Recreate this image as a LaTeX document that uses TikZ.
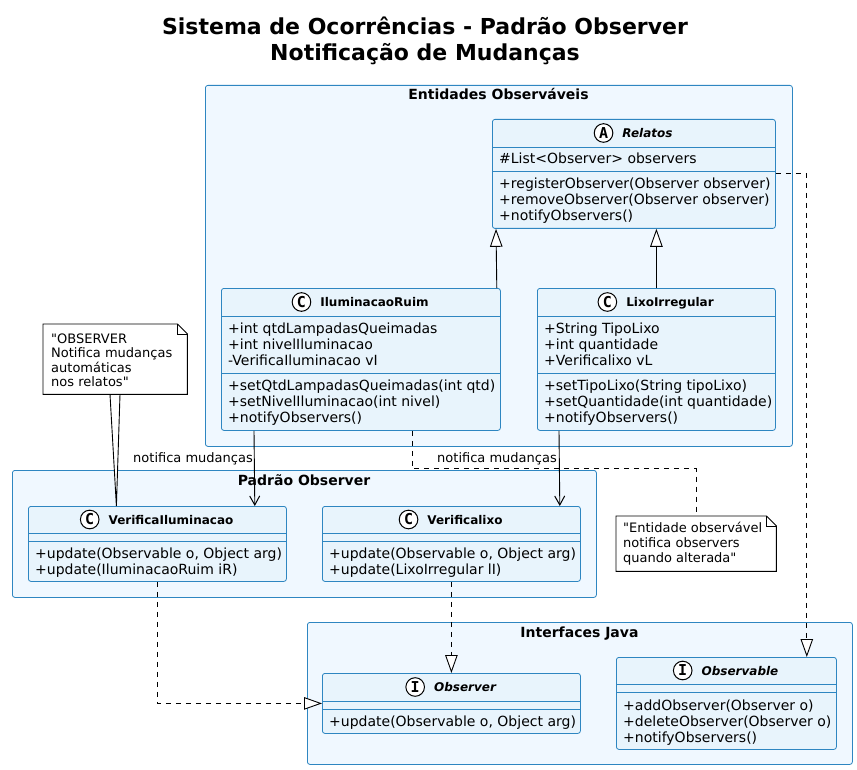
\documentclass[tikz,border=0pt]{standalone}
\usepackage{fontspec}
\setmainfont{DejaVu Sans}
\newfontfamily\iconfont{DejaVu Sans Mono}
\usetikzlibrary{arrows.meta}
\definecolor{bord}{HTML}{2E86C1}
\definecolor{pkgfill}{HTML}{F0F8FF}
\definecolor{clsfill}{HTML}{E8F4FC}
\tikzset{
 pkg/.style={draw=bord, fill=pkgfill, rounded corners=2.5pt, line width=0.8pt, inner sep=0pt, anchor=north west},
 cls/.style={draw=bord, fill=clsfill, rounded corners=2.5pt, line width=0.8pt, inner sep=0pt, anchor=north west},
 divl/.style={draw=bord, line width=0.8pt},
 mem/.style={inner sep=0pt, anchor=base west, font=\fontsize{14pt}{16pt}\selectfont},
 notetxt/.style={inner sep=0pt, anchor=base west, font=\fontsize{13pt}{15pt}\selectfont},
 lbl/.style={inner sep=0pt, anchor=base east, font=\fontsize{13pt}{15pt}\selectfont},
 pkgtitle/.style={inner sep=0pt, anchor=base, font=\bfseries\fontsize{14pt}{16pt}\selectfont},
 hdr/.style={inner sep=0pt, anchor=base, font=\bfseries\fontsize{12pt}{14pt}\selectfont},
 hdri/.style={inner sep=0pt, anchor=base, font=\bfseries\itshape\fontsize{12pt}{14pt}\selectfont},
 icon/.style={circle, draw=black, fill=white, line width=1pt, minimum size=18.6pt, inner sep=0pt, font=\iconfont\bfseries\fontsize{15pt}{15pt}\selectfont},
 ext/.style={line width=0.9pt, -{Triangle[length=18pt,width=12.5pt,fill=white]}},
 real/.style={ext, dash pattern=on 5pt off 5pt},
 dline/.style={line width=0.9pt, dash pattern=on 5pt off 5pt},
 assoc/.style={line width=0.9pt, -{Straight Barb[length=9pt,width=10pt,line width=1pt]}},
 notebox/.style={draw=black, fill=white, line width=0.9pt},
 noteanchor/.style={inner sep=0pt, anchor=north west},
 titlestyle/.style={inner sep=0pt, anchor=base, font=\bfseries\fontsize{22pt}{26pt}\selectfont},
}
\newcommand\umlhead[6]{%
 \node[#5] (#1) at (#2,#3) {\hspace*{28pt}#6};
 \node[icon] (#1i) at ([xshift=9.3pt,yshift=4.5pt]#1.base west) {#4};
}
\begin{document}
\begin{tikzpicture}[x=1pt,y=-1pt]
\useasboundingbox[fill=white] (0,0) rectangle (857,770);
% title
\node[titlestyle] (title1) at (425,35) {Sistema de Ocorrências - Padrão Observer};
\node[titlestyle] (title2) at (425,61) {Notificação de Mudanças};
% packages
\node[pkg, minimum width=587pt, minimum height=361pt] (pkgE) at (205,85) {};
\node[pkgtitle] (pkgEt) at (498.5,100) {Entidades Observáveis};
\node[pkg, minimum width=584pt, minimum height=127pt] (pkgP) at (12,470) {};
\node[pkgtitle] (pkgPt) at (304,485) {Padrão Observer};
\node[pkg, minimum width=545pt, minimum height=142pt] (pkgI) at (307,622) {};
\node[pkgtitle] (pkgIt) at (579.5,637) {Interfaces Java};
% classes
\node[cls, minimum width=283pt, minimum height=109pt] (relatos) at (492,119) {};
\draw[divl] (492,147) -- (775,147);
\draw[divl] (492,171) -- (775,171);
\node[cls, minimum width=279pt, minimum height=142pt] (ilum) at (221,288) {};
\draw[divl] (221,316) -- (500,316);
\draw[divl] (221,373) -- (500,373);
\node[cls, minimum width=238pt, minimum height=142pt] (lixo) at (537,288) {};
\draw[divl] (537,316) -- (775,316);
\draw[divl] (537,373) -- (775,373);
\node[cls, minimum width=258pt, minimum height=75pt] (vilum) at (28,506) {};
\draw[divl] (28,533) -- (286,533);
\draw[divl] (28,541) -- (286,541);
\node[cls, minimum width=258pt, minimum height=75pt] (vlixo) at (322,506) {};
\draw[divl] (322,533) -- (580,533);
\draw[divl] (322,541) -- (580,541);
\node[cls, minimum width=258pt, minimum height=60pt] (observer) at (322,673) {};
\draw[divl] (322,701) -- (580,701);
\draw[divl] (322,709) -- (580,709);
\node[cls, minimum width=220pt, minimum height=92pt] (observable) at (616,657) {};
\draw[divl] (616,684) -- (836,684);
\draw[divl] (616,692) -- (836,692);
% headers
\umlhead{hrel}{633.5}{137.5}{A}{hdri}{Relatos}
\umlhead{hilum}{360.5}{306.5}{C}{hdr}{IluminacaoRuim}
\umlhead{hlixo}{656}{306.5}{C}{hdr}{LixoIrregular}
\umlhead{hvilum}{157}{524}{C}{hdr}{VerificaIluminacao}
\umlhead{hvlixo}{451}{524}{C}{hdr}{Verificalixo}
\umlhead{hobsr}{451}{691.5}{I}{hdri}{Observer}
\umlhead{hobsl}{726}{675}{I}{hdri}{Observable}
% members
\node[mem] (r1) at (499,164) {\#List<Observer> observers};
\node[mem] (r2) at (499,189) {+registerObserver(Observer observer)};
\node[mem] (r3) at (499,205) {+removeObserver(Observer observer)};
\node[mem] (r4) at (499,221) {+notifyObservers()};
\node[mem] (i1) at (228,333) {+int qtdLampadasQueimadas};
\node[mem] (i2) at (228,349) {+int nivelIluminacao};
\node[mem] (i3) at (228,365) {-VerificaIluminacao vI};
\node[mem] (i4) at (228,390) {+setQtdLampadasQueimadas(int qtd)};
\node[mem] (i5) at (228,406) {+setNivelIluminacao(int nivel)};
\node[mem] (i6) at (228,422) {+notifyObservers()};
\node[mem] (l1) at (544,333) {+String TipoLixo};
\node[mem] (l2) at (544,349) {+int quantidade};
\node[mem] (l3) at (544,365) {+Verificalixo vL};
\node[mem] (l4) at (544,390) {+setTipoLixo(String tipoLixo)};
\node[mem] (l5) at (544,406) {+setQuantidade(int quantidade)};
\node[mem] (l6) at (544,422) {+notifyObservers()};
\node[mem] (v1) at (35,558.5) {+update(Observable o, Object arg)};
\node[mem] (v2) at (35,574.5) {+update(IluminacaoRuim iR)};
\node[mem] (x1) at (329,558.5) {+update(Observable o, Object arg)};
\node[mem] (x2) at (329,574.5) {+update(LixoIrregular lI)};
\node[mem] (o1) at (329,726) {+update(Observable o, Object arg)};
\node[mem] (b1) at (623,710) {+addObserver(Observer o)};
\node[mem] (b2) at (623,726) {+deleteObserver(Observer o)};
\node[mem] (b3) at (623,742) {+notifyObservers()};
% connectors
\draw[ext] ([xshift=-4pt]ilum.north east) -- ([xshift=4pt]relatos.south west);
\draw[ext] (lixo.north) -- (lixo.north |- relatos.south);
\draw[assoc] ([xshift=33pt]ilum.south west) -- ([xshift=-32pt]vilum.north east);
\node[lbl] (lab1) at (253,462) {notifica mudanças};
\draw[assoc] ([xshift=22pt]lixo.south west) -- ([xshift=-21pt]vlixo.north east);
\node[lbl] (lab2) at (557,462) {notifica mudanças};
\draw[real] (relatos.east) -| ([xshift=-30pt]observable.north east);
\draw[real] (vilum.south) |- (observer.west);
\draw[real] (vlixo.south) -- (observer.north);
% notes
\node[noteanchor, minimum width=160pt, minimum height=55pt] (note2) at (616,516) {};
\draw[dline] ([xshift=191pt]ilum.south west) -- ++(0,38) -| (note2.north);
\draw[notebox] (note2.north west) -- ([xshift=-10pt]note2.north east) -- ([yshift=-10pt]note2.north east) -- (note2.south east) -- (note2.south west) -- cycle;
\draw[line width=0.9pt] ([xshift=-10pt]note2.north east) -- ([xshift=-10pt,yshift=-10pt]note2.north east) -- ([yshift=-10pt]note2.north east);
\node[notetxt] (n2a) at (623,532) {\textquotedbl Entidade observável};
\node[notetxt] (n2b) at (623,547) {notifica observers};
\node[notetxt] (n2c) at (623,562) {quando alterada\textquotedbl};
\node[noteanchor, minimum width=144pt, minimum height=70pt] (note1) at (43,324) {};
\draw[notebox] ([xshift=67pt]note1.south west) -- ([xshift=-41pt]vilum.north) -- ([xshift=77pt]note1.south west);
\draw[notebox] (note1.north west) -- ([xshift=-10pt]note1.north east) -- ([yshift=-10pt]note1.north east) -- (note1.south east) -- (note1.south west) -- cycle;
\draw[line width=0.9pt] ([xshift=-10pt]note1.north east) -- ([xshift=-10pt,yshift=-10pt]note1.north east) -- ([yshift=-10pt]note1.north east);
\node[notetxt] (n1a) at (51,343) {\textquotedbl OBSERVER};
\node[notetxt] (n1b) at (51,357.5) {Notifica mudanças};
\node[notetxt] (n1c) at (51,372) {automáticas};
\node[notetxt] (n1d) at (51,386.5) {nos relatos\textquotedbl};
\end{tikzpicture}
\end{document}
